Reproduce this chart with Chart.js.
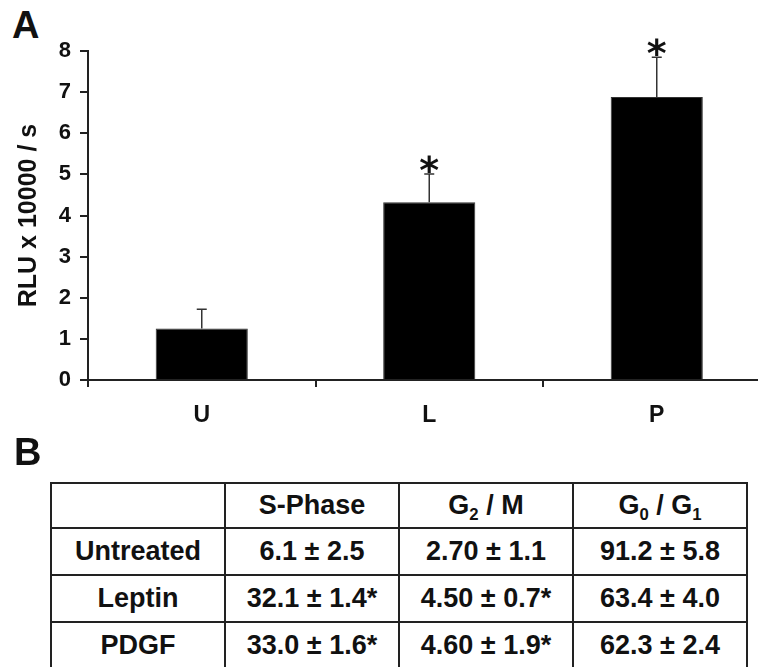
<!DOCTYPE html>
<html>
<head>
<meta charset="utf-8">
<script src="https://cdn.jsdelivr.net/npm/chart.js@4.4.1/dist/chart.umd.min.js"></script>
<style>
  html, body { margin:0; padding:0; background:#fff; width:758px; height:667px; overflow:hidden; }
  body { position:relative; font-family:"Liberation Sans", Arial, Helvetica, sans-serif; color:#111; }
  #wrap { position:absolute; left:0; top:0; width:780px; height:460px; }
  .panel { position:absolute; font-weight:bold; font-size:38px; line-height:1; }
  #lblA { left:12px; top:6px; }
  #lblB { left:14px; top:433px; }
  #tbl { position:absolute; left:50px; top:482px; border-collapse:collapse; table-layout:fixed; }
  #tbl td { border:2px solid #222; width:172px; padding:0; text-align:center; vertical-align:middle;
            font-weight:bold; font-size:27px; line-height:1; }
  #tbl tr.head td { height:43px; }
  #tbl tr.row td { height:45px; }
  #tbl sub { font-size:0.62em; vertical-align:-0.35em; line-height:0; }
</style>
</head>
<body>
<div id="lblA" class="panel">A</div>
<div id="wrap"><canvas id="chart" width="780" height="460"></canvas></div>
<div id="lblB" class="panel">B</div>
<table id="tbl"></table>

<script>
/* ---- panel A data: luciferase activity ---- */
const categories = ['U', 'L', 'P'];
const meanRLU    = [1.25, 4.32, 6.88];
const errRLU     = [0.47, 0.69, 0.97];
const starred    = [false, true, true];
const yTicks     = [0, 1, 2, 3, 4, 5, 6, 7, 8];

/* ---- panel B data: cell-cycle distribution (%) ---- */
const phaseHeads = ['S-Phase', 'G<sub>2</sub> / M', 'G<sub>0</sub> / G<sub>1</sub>'];
const treatments = ['Untreated', 'Leptin', 'PDGF'];
const sPhase     = ['6.1 ± 2.5', '32.1 ± 1.4*', '33.0 ± 1.6*'];
const g2m        = ['2.70 ± 1.1', '4.50 ± 0.7*', '4.60 ± 1.9*'];
const g0g1       = ['91.2 ± 5.8', '63.4 ± 4.0', '62.3 ± 2.4'];

const FONT = '"Liberation Sans", Arial, Helvetica, sans-serif';
const INK = '#222';

// error bars + significance stars, drawn through the chart's own scales
const errorBars = {
  id: 'errorBars',
  afterDatasetsDraw(chart) {
    const {ctx, scales: {x, y}} = chart;
    ctx.save();
    meanRLU.forEach((v, i) => {
      const cx = x.getPixelForValue(i);
      const y0 = y.getPixelForValue(v);
      const y1 = y.getPixelForValue(v + errRLU[i]);
      ctx.strokeStyle = '#333';
      ctx.lineWidth = 1.5;
      ctx.beginPath();
      ctx.moveTo(cx, y0);
      ctx.lineTo(cx, y1);
      ctx.moveTo(cx - 5, y1);
      ctx.lineTo(cx + 5, y1);
      ctx.stroke();
      if (starred[i]) {
        ctx.fillStyle = '#111';
        ctx.font = 'bold 38px "DejaVu Sans", sans-serif';
        ctx.textAlign = 'center';
        ctx.textBaseline = 'alphabetic';
        ctx.fillText('*', cx, y1 + 9);
      }
    });
    ctx.restore();
  }
};

new Chart(document.getElementById('chart'), {
  type: 'bar',
  data: {
    labels: categories,
    datasets: [{
      data: meanRLU,
      backgroundColor: '#000',
      borderColor: '#333',
      borderWidth: 1,
      categoryPercentage: 1,
      barPercentage: 0.405
    }]
  },
  options: {
    responsive: false,
    animation: false,
    layout: { padding: { top: 51, right: 9.5, left: 0, bottom: 0 } },
    plugins: { legend: { display: false }, tooltip: { enabled: false } },
    scales: {
      x: {
        grid: { offset: true, drawOnChartArea: false, drawTicks: true, tickLength: 7, color: INK, lineWidth: 2 },
        border: { color: INK, width: 2 },
        ticks: { color: '#111', padding: 15, font: { family: FONT, size: 23, weight: 'bold' } },
        afterFit(s) { s.height = 80; }
      },
      y: {
        min: 0, max: 8,
        afterBuildTicks(s) { s.ticks = yTicks.map(v => ({ value: v })); },
        grid: { drawOnChartArea: false, drawTicks: true, tickLength: 8, color: INK, lineWidth: 2 },
        border: { color: INK, width: 2 },
        ticks: { color: '#111', padding: 9, font: { family: FONT, size: 22, weight: 'bold' } },
        title: {
          display: true, text: 'RLU x 10000 / s', color: '#111',
          padding: { top: 14, bottom: 0 },
          font: { family: FONT, size: 25, weight: 'bold' }
        },
        afterFit(s) { s.width = 88; }
      }
    }
  },
  plugins: [errorBars]
});

// panel B table
const tbl = document.getElementById('tbl');
let html = '<tr class="head"><td></td>' + phaseHeads.map(h => '<td>' + h + '</td>').join('') + '</tr>';
treatments.forEach((t, i) => {
  html += '<tr class="row"><td>' + t + '</td><td>' + sPhase[i] + '</td><td>' + g2m[i] + '</td><td>' + g0g1[i] + '</td></tr>';
});
tbl.innerHTML = html;
</script>
</body>
</html>
